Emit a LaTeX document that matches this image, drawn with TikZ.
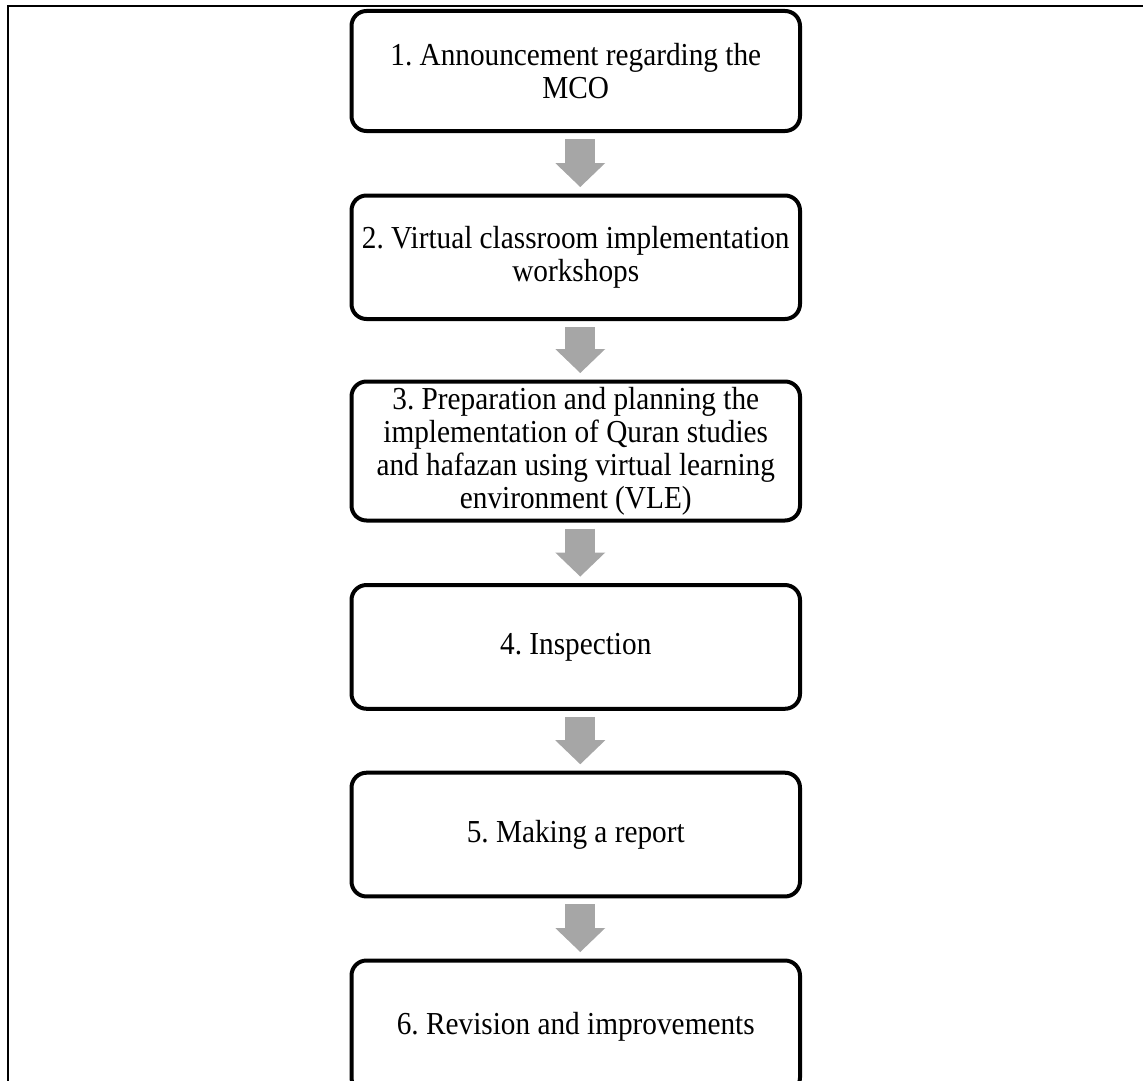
\documentclass[tikz,border=0pt]{standalone}
\usepackage{fontspec}
\setmainfont{Liberation Serif}[FakeStretch=0.915]
\usetikzlibrary{arrows.meta}
\definecolor{arrowgrey}{HTML}{A6A6A6}
\tikzset{
  stepbox/.style={draw=black, line width=4pt, rounded corners=15pt, fill=white,
    minimum width=448.5pt, inner sep=0pt, align=center,
    font=\fontsize{32}{33}\selectfont\frenchspacing},
  flowarrow/.style={draw=arrowgrey, line width=30pt,
    -{Triangle[width=50pt 0 0,length=24pt 0 0,line width=0pt 0 0,fill=arrowgrey]}},
  frameline/.style={draw=black, line width=2.5pt}
}
\begin{document}
\begin{tikzpicture}[x=1pt,y=-1pt]
\useasboundingbox (0,0) rectangle (1143,1081);
% frame (top and left edges visible)
\coordinate (fa) at (8,1081);
\coordinate (fb) at (8,6);
\coordinate (fc) at (1143,6);
\draw[frameline] (fa) -- (fb) -- (fc);
% boxes
\node[stepbox, minimum height=120pt] (b1) at (575.75,71)
  {1. Announcement regarding the\\MCO};
\node[stepbox, minimum height=123.5pt] (b2) at (575.75,257.25)
  {2. Virtual classroom implementation\\workshops};
\node[stepbox, minimum height=139pt] (b3) at (575.75,451)
  {3. Preparation and planning the\\implementation of Quran studies\\and hafazan using virtual learning\\environment (VLE)};
\node[stepbox, minimum height=123.75pt] (b4) at (575.75,646.9)
  {4. Inspection};
\node[stepbox, minimum height=123.75pt] (b5) at (575.75,834.6)
  {5. Making a report};
\node[stepbox, minimum height=132pt] (b6) at (575.75,1026.5)
  {6. Revision and improvements};
% arrows
\foreach \a/\b in {b1/b2,b2/b3,b3/b4,b4/b5,b5/b6}{
  \draw[flowarrow] ([xshift=4.5pt,yshift=-6pt]\a.south) -- ([xshift=4.5pt,yshift=6.5pt]\b.north);
}
\end{tikzpicture}
\end{document}
